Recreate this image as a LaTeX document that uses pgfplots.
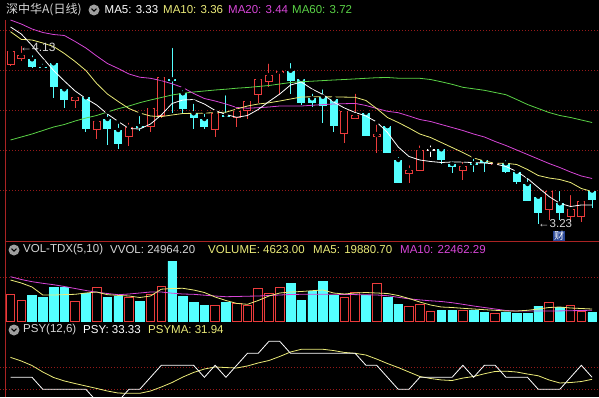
\documentclass[border=0pt]{standalone}
\usepackage{pgfplots}
\pgfplotsset{compat=1.18}
\usepackage{pgfplotstable}
\usepackage{fontspec}
\setmainfont{Liberation Sans}
\newfontfamily\cjk{Noto Sans CJK SC}
\definecolor{upred}{RGB}{235,60,60}
\definecolor{dncyan}{RGB}{84,255,255}
\definecolor{ma10c}{RGB}{235,235,120}
\definecolor{ma20c}{RGB}{215,70,215}
\definecolor{ma60c}{RGB}{90,210,70}
\definecolor{gridred}{RGB}{150,25,25}
\definecolor{framered}{RGB}{170,35,35}
\definecolor{txtgray}{RGB}{215,215,215}
\definecolor{tagblue}{RGB}{40,70,150}

\pgfplotstableread{
i O H L C V
0 4.025 4.100 4.022 4.095 14950
1 4.0535 4.130 4.0465 4.075 11590
6 3.845 3.875 3.8085 3.8635 11200
8 3.700 3.7565 3.6535 3.745 18870
11 3.6665 3.7465 3.620 3.7165 13440
13 3.7135 3.825 3.6915 3.8115 14950
14 3.770 3.965 3.7585 3.9635 19210
19 3.700 3.790 3.6635 3.7865 8960
21 3.7585 3.825 3.7135 3.795 9910
22 3.795 3.845 3.755 3.845 8960
23 3.875 3.9665 3.8335 3.9535 18310
24 3.9415 4.0415 3.9165 3.975 15510
25 3.9835 4.0035 3.875 3.9965 18870
31 3.680 3.795 3.6335 3.795 13440
32 3.7535 3.8915 3.7535 3.775 16070
34 3.6665 3.7365 3.5835 3.680 21110
37 3.4785 3.5335 3.4335 3.500 8400
38 3.495 3.6335 3.495 3.600 9520
42 3.4965 3.550 3.450 3.520 6160
45 3.525 3.555 3.525 3.5365 4310
50 3.300 3.4135 3.250 3.395 10470
52 3.2635 3.385 3.2415 3.3035 8790
53 3.2635 3.3585 3.2415 3.3465 5210
}\up

\pgfplotstableread{
i O H L C V
39 3.600 3.6335 3.5665 3.600 5210
}\doji

\pgfplotstableread{
i O H L C V
2 4.0535 4.0835 4.0085 4.0165 14560
3 4.0165 4.0415 4.0085 4.0085 13050
4 4.0335 4.0365 3.8585 3.9165 19040
5 3.9035 3.9165 3.8085 3.850 18650
7 3.8635 3.875 3.6915 3.7035 15510
9 3.755 3.7915 3.625 3.7035 13050
10 3.700 3.7415 3.6035 3.6285 13610
12 3.720 3.780 3.6965 3.710 11200
15 3.9535 4.120 3.7835 3.945 33600
16 3.8835 3.9085 3.7865 3.805 13610
17 3.7835 3.8415 3.7035 3.7585 10640
18 3.755 3.7915 3.7035 3.7135 8960
20 3.775 3.8835 3.7635 3.7635 10250
26 3.9965 4.045 3.880 3.945 21110
27 3.955 3.9665 3.825 3.8335 11760
28 3.8585 3.8915 3.8165 3.835 16410
29 3.8665 3.9135 3.7335 3.820 22010
30 3.8535 3.860 3.6915 3.720 14170
33 3.7865 3.800 3.670 3.670 14170
35 3.720 3.720 3.5835 3.5835 13440
36 3.550 3.575 3.4335 3.4335 9520
40 3.6035 3.620 3.530 3.550 6160
41 3.530 3.5535 3.4835 3.5135 6160
43 3.5335 3.5665 3.4915 3.525 5770
44 3.550 3.5665 3.4915 3.5335 4650
46 3.5335 3.5585 3.4835 3.4915 4650
47 3.4915 3.495 3.430 3.440 4310
48 3.430 3.470 3.3465 3.3465 4310
49 3.3665 3.380 3.230 3.2865 8400
51 3.3335 3.405 3.250 3.285 7450
54 3.3975 3.400 3.310 3.350 4650
}\down

\pgfplotstableread{
i m5 m10 m20 m60
0 4.215 4.1915 4.25 3.65
1 4.18 4.153 4.23 3.665
2 4.1225 4.15 4.205 3.68
3 4.06 4.135 4.1875 3.6975
4 3.9975 4.1175 4.1775 3.715
5 3.945 4.0825 4.1725 3.7275
6 3.895 4.0425 4.1425 3.745
7 3.8575 3.9975 4.11 3.76
8 3.825 3.9325 4.07 3.7725
9 3.78 3.88 4.0325 3.79
10 3.7425 3.8425 4.0075 3.8065
11 3.7075 3.8075 3.98 3.82
12 3.705 3.785 3.964 3.8365
13 3.73 3.77 3.9585 3.85
14 3.775 3.767 3.947 3.8625
15 3.8325 3.775 3.931 3.875
16 3.85 3.7825 3.9125 3.8835
17 3.8525 3.7835 3.8825 3.89
18 3.83 3.7845 3.8575 3.895
19 3.7975 3.787 3.845 3.90
20 3.7775 3.789 3.83 3.904
21 3.7635 3.805 3.8125 3.909
22 3.7725 3.82 3.809 3.9125
23 3.8025 3.83 3.8115 3.9175
24 3.8425 3.836 3.815 3.9225
25 3.88 3.845 3.82 3.93
26 3.925 3.855 3.82 3.9375
27 3.94 3.865 3.82 3.9415
28 3.905 3.866 3.8235 3.944
29 3.8775 3.866 3.827 3.947
30 3.84 3.8655 3.83 3.95
31 3.81 3.8645 3.8315 3.9525
32 3.7875 3.8635 3.833 3.9555
33 3.77 3.8475 3.8225 3.9585
34 3.74 3.8075 3.8075 3.9615
35 3.6875 3.7625 3.7935 3.9625
36 3.615 3.7375 3.7865 3.959
37 3.5675 3.71 3.77 3.9585
38 3.55 3.68 3.7525 3.9585
39 3.5425 3.6625 3.7425 3.9525
40 3.5375 3.6375 3.7275 3.941
41 3.54 3.6125 3.7125 3.9285
42 3.54 3.5875 3.6975 3.9135
43 3.5365 3.56 3.68 3.906
44 3.535 3.545 3.665 3.8985
45 3.53 3.5335 3.6425 3.8875
46 3.5175 3.5335 3.6225 3.8765
47 3.4925 3.5275 3.60 3.8525
48 3.4575 3.5025 3.5775 3.8275
49 3.4125 3.4725 3.555 3.8075
50 3.3675 3.46 3.5325 3.7875
51 3.3335 3.4525 3.5125 3.7725
52 3.3175 3.4375 3.49 3.7625
53 3.325 3.4075 3.47 3.75
54 3.325 3.3925 3.4575 3.7375
}\ma

\pgfplotstableread{
i v5 v10
0 22960 24810
1 21280 23240
2 19040 22010
3 14560 21110
4 14560 20330
5 14780 19320
6 14950 18200
7 15680 17080
8 16240 16130
9 14730 15400
10 14340 14730
11 14000 15120
12 13160 15680
13 14000 16240
14 17810 16240
15 18200 15570
16 18310 15120
17 17360 14950
18 15960 14450
19 13440 14000
20 11480 13610
21 9860 13720
22 9350 13890
23 11480 14000
24 14000 14280
25 15680 14560
26 16240 14840
27 16520 14950
28 16970 14950
29 17360 14950
30 15680 14950
31 15120 14900
32 15680 14780
33 15960 14670
34 15680 14560
35 15400 14170
36 14280 13270
37 12600 12430
38 10640 11820
39 8960 11310
40 7840 10920
41 7560 10250
42 7110 9350
43 6720 8400
44 6330 7560
45 5990 6720
46 5600 5880
47 5600 5600
48 5990 5600
49 6720 5600
50 7560 5600
51 7840 5660
52 7280 5770
53 7000 5880
54 6720 6050
}\vma

\pgfplotstableread{
i psy psyma
0 33.33 47.2
1 33.33 44.65
2 33.33 41.5
3 25 37.0
4 25 33.2
5 25 30.8
6 25 29.0
7 25 27.3
8 16.67 25.6
9 16.67 23.8
10 16.67 22.4
11 25 22.2
12 25 22.2
13 33.33 23.8
14 41.67 26.6
15 41.67 29.7
16 41.67 33.5
17 41.67 36.7
18 33.33 39.1
19 41.67 40.5
20 33.33 40.1
21 41.67 39.8
22 50 41.2
23 50 43.3
24 58.33 45.0
25 58.33 47.8
26 50 50.9
27 50 52.8
28 50 52.8
29 50 52.8
30 50 51.9
31 50 50.6
32 50 50.0
33 41.67 48.8
34 41.67 46.0
35 33.33 42.9
36 25 40.1
37 25 37.0
38 33.33 33.9
39 33.33 32.5
40 33.33 31.5
41 33.33 31.1
42 41.67 32.8
43 33.33 33.9
44 41.67 35.8
45 41.67 37.4
46 33.33 37.6
47 33.33 37.0
48 33.33 35.6
49 25 34.4
50 25 31.5
51 25 29.4
52 33.33 29.7
53 41.67 30.4
54 33.33 31.94
}\psy

\pgfplotsset{panel/.style={scale only axis, width=599pt, xmin=-0.975, xmax=54.64,
  axis line style={draw=none}, xtick=\empty, major tick length=0pt, yticklabels={},
  ymajorgrids, grid style={gridred, dash pattern=on 1pt off 2pt, line width=0.7pt}},
  wick/.style={only marks, mark=none, forget plot, error bars/.cd, y dir=minus, y explicit, error mark=none,
   error bar style={draw=#1, line width=1pt, solid}},
  body/.style 2 args={only marks, mark=none, forget plot, error bars/.cd, y dir=minus, y explicit, error mark=none,
   error bar style={draw=#1, line width=#2, solid}}}

\begin{document}
\begin{tikzpicture}
\useasboundingbox (0,0) rectangle (599pt,397pt);
\fill[black] (0,0) rectangle (599pt,397pt);

% ---------- main price panel ----------
\begin{axis}[panel, height=241pt, at={(0pt,397pt)}, anchor=north west,
  ymin=3.145, ymax=4.35, ytick={3.4,3.6,3.8,4.0,4.2}]
\addplot[wick=upred] table[x=i, y=H, y error minus expr=\thisrow{H}-\thisrow{L}] {\up};
\addplot[wick=dncyan] table[x=i, y=H, y error minus expr=\thisrow{H}-\thisrow{L}] {\down};
\addplot[wick=white] table[x=i, y=H, y error minus expr=\thisrow{H}-\thisrow{L}] {\doji};
\addplot[body={upred}{8pt}] table[x=i, y=C, y error minus expr={max(\thisrow{C}-\thisrow{O},0.006)}] {\up};
\addplot[body={black}{6pt}] table[x=i, y expr=\thisrow{C}-0.005, y error minus expr={max(\thisrow{C}-\thisrow{O}-0.01,0)}] {\up};
\addplot[body={dncyan}{8pt}] table[x=i, y=O, y error minus expr={max(\thisrow{O}-\thisrow{C},0.006)}] {\down};
\addplot[body={white}{8pt}] table[x=i, y expr=\thisrow{O}+0.003, y error minus expr=0.006] {\doji};
\addplot[ma60c, line width=0.8pt] table[x=i, y=m60] {\ma};
\addplot[ma20c, line width=0.8pt] table[x=i, y=m20] {\ma};
\addplot[ma10c, line width=0.8pt] table[x=i, y=m10] {\ma};
\addplot[white, line width=0.8pt] table[x=i, y=m5] {\ma};
\end{axis}

% ---------- volume panel ----------
\begin{axis}[panel, height=81pt, at={(0pt,156pt)}, anchor=north west,
  ymin=-560, ymax=44800, ytick={24640}]
\addplot[ybar, bar shift=0pt, bar width=0.8, draw=upred, fill=black, line width=0.9pt] table[x=i, y=V] {\up};
\addplot[ybar, bar shift=0pt, bar width=0.8, draw=upred, fill=black, line width=0.9pt] table[x=i, y=V] {\doji};
\addplot[ybar, bar shift=0pt, bar width=0.8, draw=dncyan, fill=dncyan, line width=0.5pt] table[x=i, y=V] {\down};
\addplot[ma20c, line width=0.8pt] table[x=i, y=v10] {\vma};
\addplot[ma10c, line width=0.8pt] table[x=i, y=v5] {\vma};
\end{axis}

% ---------- PSY panel ----------
\begin{axis}[panel, height=75pt, at={(0pt,75pt)}, anchor=north west,
  ymin=19.65, ymax=71.74, ytick={25,40.3}]
\addplot[ma10c, line width=0.8pt] table[x=i, y=psyma] {\psy};
\addplot[white, line width=0.8pt] table[x=i, y=psy] {\psy};
\end{axis}

% frame lines
\draw[framered, line width=1pt] (5pt,0pt) -- (5pt,377pt);
\draw[framered, line width=1pt] (5pt,156pt) -- (599pt,156pt);

% headers
\begin{scope}[every node/.style={anchor=west, inner sep=0pt, font=\fontsize{11.5}{12}\selectfont}]
\node[text=txtgray, font=\cjk\fontsize{12}{12}\selectfont] at (6pt,387pt) {深中华A(日线)};
\fill[gray!75] (94pt,387pt) circle (5.5pt);
\draw[black, line width=1pt] (91.5pt,388.3pt) -- (94pt,385.8pt) -- (96.5pt,388.3pt);
\node[text=white] at (104.5pt,387pt) {MA5: 3.33};
\node[text=ma10c] at (163pt,387pt) {MA10: 3.36};
\node[text=ma20c] at (228pt,387pt) {MA20: 3.44};
\node[text=ma60c] at (292pt,387pt) {MA60: 3.72};

\fill[gray!75] (14pt,147pt) circle (5.5pt);
\draw[black, line width=1pt] (11.5pt,148.3pt) -- (14pt,145.8pt) -- (16.5pt,148.3pt);
\node[text=txtgray] at (23pt,147pt) {VOL-TDX(5,10)};
\node[text=txtgray] at (110pt,147pt) {VVOL: 24964.20};
\node[text=ma10c] at (208pt,147pt) {VOLUME: 4623.00};
\node[text=ma10c] at (313pt,147pt) {MA5: 19880.70};
\node[text=ma20c] at (400pt,147pt) {MA10: 22462.29};

\fill[gray!75] (14pt,67pt) circle (5.5pt);
\draw[black, line width=1pt] (11.5pt,68.3pt) -- (14pt,65.8pt) -- (16.5pt,68.3pt);
\node[text=txtgray] at (23pt,67pt) {PSY(12,6)};
\node[text=white] at (83pt,67pt) {PSY: 33.33};
\node[text=ma10c] at (148pt,67pt) {PSYMA: 31.94};

\node[text=txtgray, font=\fontsize{12}{12}\selectfont] at (20pt,349.5pt) {←4.13};
\node[text=txtgray, font=\fontsize{11.5}{12}\selectfont] at (538pt,173pt) {←3.23};
\node[anchor=center, fill=tagblue, text=white, inner sep=0.8pt, font=\cjk\fontsize{10}{10}\selectfont] at (559pt,161pt) {财};
\end{scope}
\end{tikzpicture}
\end{document}
